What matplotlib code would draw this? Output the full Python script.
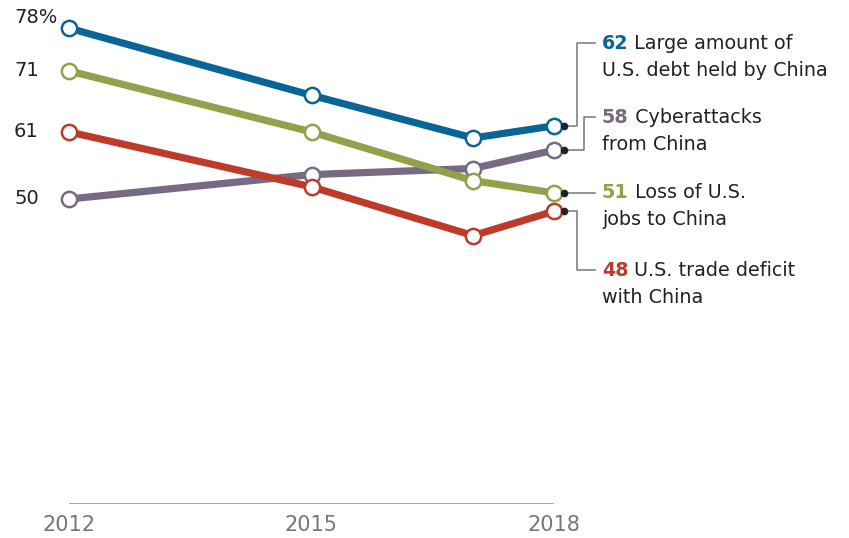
import matplotlib
matplotlib.use("Agg")
import matplotlib.pyplot as plt

years = [2012, 2015, 2017, 2018]
tick_years = [2012, 2015, 2018]
series_names = ["Large amount of\nU.S. debt held by China",
                "Cyberattacks\nfrom China",
                "Loss of U.S.\njobs to China",
                "U.S. trade deficit\nwith China"]
debt = [78, 67, 60, 62]
cyber = [50, 54, 55, 58]
jobs = [71, 61, 53, 51]
trade = [61, 52, 44, 48]
colors = ["#0a6597", "#766b82", "#94a14a", "#bf3b29"]

plt.rcParams['font.family'] = ['DejaVu Sans']
FS_LAB = 13.8
FS_Y = 14
FS_X = 15
W, H = 849, 538
fig = plt.figure(figsize=(W / 100, H / 100), dpi=100)
ax = fig.add_axes([69 / W, 34 / H, 485 / W, 475.8 / H])
ax.set_xlim(2012, 2018)
ax.set_ylim(0, 78)
for s in ax.spines.values():
    s.set_visible(False)
ax.set_yticks([])
ax.set_xticks(tick_years)
ax.set_xticklabels([str(y) for y in tick_years], fontsize=FS_X, color="#777777")
ax.tick_params(axis='x', length=0, pad=8)
ax.axhline(0, color="#9a9a9a", lw=1.2, zorder=1)

all_series = [debt, cyber, jobs, trade]
draw_order = [1, 3, 2, 0]
for i in draw_order:
    ax.plot(years, all_series[i], color=colors[i], lw=5.2, solid_capstyle='round',
            zorder=2, clip_on=False)
for i in draw_order:
    ax.plot(years, all_series[i], ls='none', marker='o', ms=11, mfc='white',
            mec=colors[i], mew=1.8, zorder=3, clip_on=False)

# y labels (first values)
first_vals = [debt[0], jobs[0], trade[0], cyber[0]]
for k, v in enumerate(first_vals):
    txt = f"{v}%" if k == 0 else f"{v}"
    dy = 7.5 if k == 0 else 0
    ax.annotate(txt, xy=(14, v), xycoords=('figure pixels', 'data'),
                xytext=(0, dy), textcoords='offset points', fontsize=FS_Y,
                color="#222222", ha='left', va='center')

# connectors and labels
inv = ax.transData.inverted()
def px2data(x, ytop):
    return inv.transform((x, H - ytop))

label_y = [43, 117, 193, 270]
elbow_x = [577, 584, None, 577]
x_dot_px = 564
x_lab_px = 595
x_text_px = 602
for i, vals in enumerate(all_series):
    last = vals[-1]
    xd, _ = px2data(x_dot_px, 0)
    xl, yl = px2data(x_lab_px, label_y[i])
    if elbow_x[i] is None:
        xs = [xd, xl]
        ys = [last, last]
        yl = last
    else:
        xe, _ = px2data(elbow_x[i], 0)
        xs = [xd, xe, xe, xl]
        ys = [last, last, yl, yl]
    ax.plot(xs, ys, color="#777777", lw=1.1, zorder=1, clip_on=False)
    ax.plot([xd], [last], marker='o', ms=4.5, color="#222222", zorder=4, clip_on=False)
    xt, _ = px2data(x_text_px, 0)
    lines = series_names[i].split("\n")
    num = ax.text(xt, yl, f"{last}", fontsize=FS_LAB, fontweight='bold', color=colors[i],
                  ha='left', va='center', clip_on=False)
    ax.annotate(" " + lines[0], xy=(1, 0.5), xycoords=num, ha='left', va='center',
                fontsize=FS_LAB, color="#222222")
    ax.annotate(lines[1], xy=(0, 0.5), xycoords=num, xytext=(0, -27 * 0.72),
                textcoords='offset points', ha='left', va='center',
                fontsize=FS_LAB, color="#222222")

fig.savefig("out.png", dpi=100)
